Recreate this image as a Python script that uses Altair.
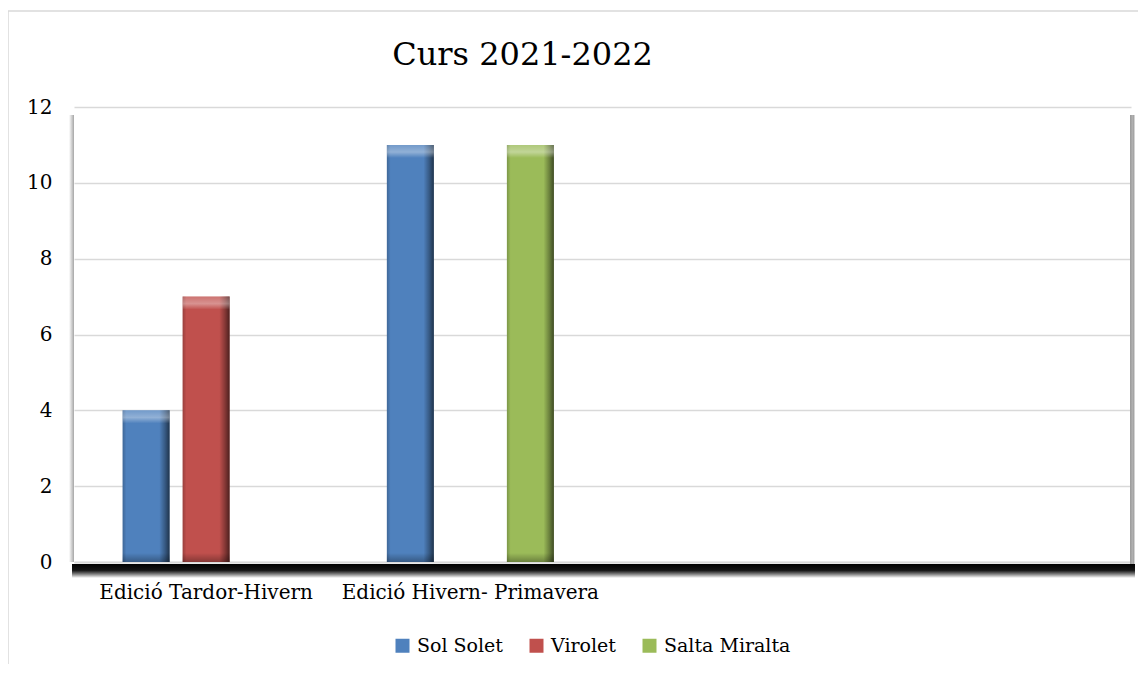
import altair as alt
import pandas as pd

# ---- data ----
categories = ["Edició Tardor-Hivern", "Edició Hivern- Primavera"]
empty_slots = ["", " "]          # two empty category slots on the axis
series = ["Sol Solet", "Virolet", "Salta Miralta"]
sol_solet = [4, 11]
virolet = [7, None]
salta_miralta = [None, 11]
colors = ["#4f81bd", "#c0504d", "#9bbb59"]
y_ticks = [0, 2, 4, 6, 8, 10, 12]
title_text = "Curs 2021-2022"

rows = []
for name, vals in zip(series, [sol_solet, virolet, salta_miralta]):
    for cat, v in zip(categories, vals):
        if v is not None:
            rows.append({"cat": cat, "serie": name, "value": v})
df = pd.DataFrame(rows)
one = pd.DataFrame({"a": [0]})

W, H = 1057, 455
FONT = "DejaVu Serif"
GRID = "#d9d9d9"

x_enc = alt.X(
    "cat:N",
    scale=alt.Scale(domain=categories + empty_slots, paddingInner=0, paddingOuter=0),
    axis=alt.Axis(title=None, labelAngle=0, labelFont=FONT, labelFontSize=20,
                  labelColor="black", labelPadding=20, labelLimit=400, ticks=False,
                  domainColor=GRID, domainWidth=2, grid=False),
)
xo_enc = alt.XOffset("serie:N", scale=alt.Scale(domain=series, paddingInner=0.217, paddingOuter=0.81))
y_enc = alt.Y(
    "value:Q",
    scale=alt.Scale(domain=[0, 12], nice=False),
    axis=alt.Axis(values=y_ticks, title=None, domain=False, ticks=False,
                  labelFont=FONT, labelFontSize=20, labelColor="black",
                  labelPadding=22, gridColor=GRID, gridWidth=1.5),
)

base = alt.Chart(df).encode(x=x_enc, xOffset=xo_enc, y=y_enc)

bars = base.mark_bar().encode(
    color=alt.Color(
        "serie:N",
        scale=alt.Scale(domain=series, range=colors),
        title=None,
        legend=alt.Legend(orient="none", legendX=319, legendY=529, direction="horizontal",
                          symbolType="square", symbolSize=196, symbolStrokeWidth=0,
                          labelFont=FONT, labelFontSize=19, labelColor="black",
                          labelOffset=5, columnPadding=24, padding=0),
    )
)

shade = base.mark_bar(
    fill=alt.Gradient(
        gradient="linear", x1=0, x2=1, y1=0, y2=0,
        stops=[
            alt.GradientStop(offset=0, color="rgba(0,0,0,0.2)"),
            alt.GradientStop(offset=0.08, color="rgba(0,0,0,0)"),
            alt.GradientStop(offset=0.78, color="rgba(0,0,0,0)"),
            alt.GradientStop(offset=0.9, color="rgba(0,0,0,0.3)"),
            alt.GradientStop(offset=1, color="rgba(0,0,0,0.6)"),
        ],
    )
)

top_cap = base.mark_bar(
    y2Offset=13,
    fill=alt.Gradient(
        gradient="linear", x1=0, x2=0, y1=0, y2=1,
        stops=[
            alt.GradientStop(offset=0, color="rgba(255,255,255,0.2)"),
            alt.GradientStop(offset=0.55, color="rgba(255,255,255,0.38)"),
            alt.GradientStop(offset=1, color="rgba(255,255,255,0)"),
        ],
    ),
).encode(y2="value:Q")

bottom_cap = base.mark_bar(
    yOffset=-9,
    fill=alt.Gradient(
        gradient="linear", x1=0, x2=0, y1=0, y2=1,
        stops=[
            alt.GradientStop(offset=0, color="rgba(0,0,0,0)"),
            alt.GradientStop(offset=1, color="rgba(0,0,0,0.3)"),
        ],
    ),
).encode(y=alt.datum(0), y2=alt.datum(0))

# decorations: outer frame, floor shadow, walls
border_top = alt.Chart(one).mark_rule(color=GRID, strokeWidth=1.5).encode(
    x=alt.value(-66), x2=alt.value(W + 20), y=alt.value(-96))
border_left = alt.Chart(one).mark_rule(color=GRID, strokeWidth=1.5).encode(
    x=alt.value(-66), y=alt.value(-96), y2=alt.value(H + 120))

floor_shadow = alt.Chart(one).mark_rect(
    fill=alt.Gradient(
        gradient="linear", x1=0, x2=0, y1=0, y2=1,
        stops=[
            alt.GradientStop(offset=0, color="#000000"),
            alt.GradientStop(offset=0.45, color="#141414"),
            alt.GradientStop(offset=0.75, color="rgba(0,0,0,0.45)"),
            alt.GradientStop(offset=1, color="rgba(0,0,0,0)"),
        ],
    )
).encode(x=alt.value(-2), x2=alt.value(W + 4), y=alt.value(H + 2), y2=alt.value(H + 16))

left_wall = alt.Chart(one).mark_rect(
    fill=alt.Gradient(
        gradient="linear", x1=0, x2=1, y1=0, y2=0,
        stops=[
            alt.GradientStop(offset=0, color="rgba(0,0,0,0)"),
            alt.GradientStop(offset=1, color="rgba(0,0,0,0.35)"),
        ],
    )
).encode(x=alt.value(-5), x2=alt.value(0), y=alt.value(8), y2=alt.value(H))

right_wall = alt.Chart(one).mark_rect(
    fill=alt.Gradient(
        gradient="linear", x1=0, x2=1, y1=0, y2=0,
        stops=[
            alt.GradientStop(offset=0, color="#9a9a9a"),
            alt.GradientStop(offset=0.5, color="#b0b0b0"),
            alt.GradientStop(offset=1, color="rgba(0,0,0,0)"),
        ],
    )
).encode(x=alt.value(W - 1), x2=alt.value(W + 4), y=alt.value(8), y2=alt.value(H + 2))

chart = alt.layer(
    border_top, border_left, left_wall, right_wall, floor_shadow,
    bars, shade, top_cap, bottom_cap,
).properties(
    width=W,
    height=H,
    title=alt.TitleParams(text=title_text, font=FONT, fontSize=32, fontWeight="normal",
                          color="black", anchor="middle", frame="group", dx=-80,
                          offset=0, dy=62),
    padding={"left": 66, "top": 99, "right": 7, "bottom": 102},
    autosize=alt.AutoSizeParams(type="none"),
    background="white",
).configure_view(strokeWidth=0)

chart.save("out.html", embed_options={"renderer": "svg", "actions": False})
